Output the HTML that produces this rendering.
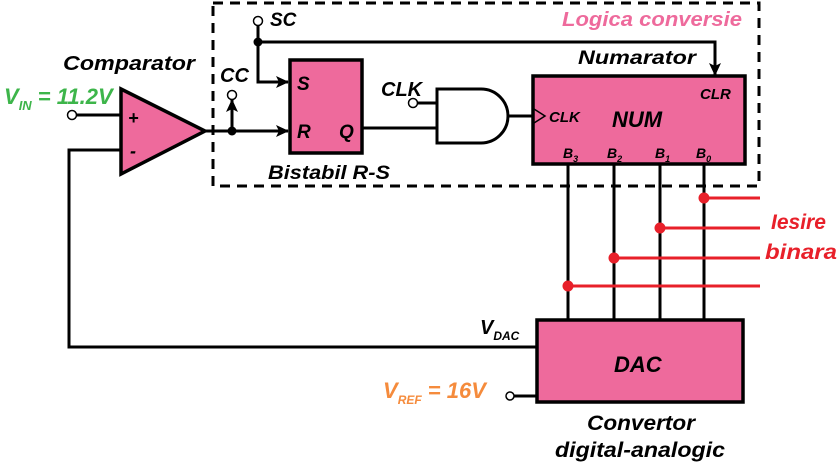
<!DOCTYPE html>
<html><head><meta charset="utf-8"><style>
html,body{margin:0;padding:0;background:#fff;}
svg{display:block;}
text{font-family:"Liberation Sans",sans-serif;font-style:italic;font-weight:bold;}
</style></head><body>
<svg width="837" height="466" viewBox="0 0 837 466" xmlns="http://www.w3.org/2000/svg">
<defs>
<marker id="ar" markerWidth="13" markerHeight="12" refX="12" refY="6" orient="auto" markerUnits="userSpaceOnUse">
<path d="M0,0 L13,6 L0,12 L3,6 Z" fill="#000"/></marker>
</defs>
<!-- dashed box -->
<path d="M213,3 H759 V186 H213 Z" fill="none" stroke="#000" stroke-width="3" stroke-dasharray="10,7"/>
<text x="562" y="26" font-size="20" fill="#EE6A9C" textLength="180" lengthAdjust="spacingAndGlyphs">Logica conversie</text>

<!-- comparator -->
<polygon points="121,89 121,174 205,131" fill="#EE6A9C" stroke="#000" stroke-width="3.5"/>
<text x="128" y="124" font-size="18">+</text>
<text x="130" y="157" font-size="18">-</text>
<text x="63" y="70" font-size="20" textLength="132" lengthAdjust="spacingAndGlyphs">Comparator</text>
<text x="4" y="104" font-size="22" fill="#3DB54A">V<tspan font-size="13" dy="6">IN</tspan><tspan dy="-6"> = 11.2V</tspan></text>
<line x1="76" y1="115" x2="121" y2="115" stroke="#000" stroke-width="3"/>
<circle cx="72" cy="115" r="4.5" fill="#fff" stroke="#000" stroke-width="1.5"/>
<polyline points="121,150 69,150 69,347 537,347" fill="none" stroke="#000" stroke-width="3"/>

<!-- comparator out -->
<line x1="205" y1="131" x2="288" y2="131" stroke="#000" stroke-width="3" marker-end="url(#ar)"/>
<circle cx="232" cy="131" r="4.5" fill="#000"/>
<line x1="232" y1="131" x2="232" y2="100" stroke="#000" stroke-width="3" marker-end="url(#ar)"/>
<circle cx="232" cy="95" r="4.5" fill="#fff" stroke="#000" stroke-width="1.5"/>
<text x="220" y="82" font-size="20">CC</text>

<!-- SC -->
<circle cx="258" cy="21" r="4.5" fill="#fff" stroke="#000" stroke-width="1.5"/>
<text x="270" y="26" font-size="19">SC</text>
<polyline points="258,26 258,82 288,82" fill="none" stroke="#000" stroke-width="3" marker-end="url(#ar)"/>
<circle cx="258" cy="42" r="4.5" fill="#000"/>
<polyline points="258,42 715,42 715,75" fill="none" stroke="#000" stroke-width="3" marker-end="url(#ar)"/>

<!-- RS -->
<rect x="290" y="60" width="72" height="93" fill="#EE6A9C" stroke="#000" stroke-width="3.5"/>
<text x="297" y="90" font-size="19">S</text>
<text x="297" y="138" font-size="19">R</text>
<text x="339" y="138" font-size="19">Q</text>
<text x="268" y="179" font-size="19" textLength="122" lengthAdjust="spacingAndGlyphs">Bistabil R-S</text>
<line x1="362" y1="128" x2="437" y2="128" stroke="#000" stroke-width="3"/>

<!-- AND -->
<circle cx="413" cy="103" r="4.5" fill="#fff" stroke="#000" stroke-width="1.5"/>
<line x1="418" y1="103" x2="437" y2="103" stroke="#000" stroke-width="3"/>
<text x="381" y="96" font-size="20">CLK</text>
<path d="M437,89 H481 A27,27 0 0 1 481,143 H437 Z" fill="#fff" stroke="#000" stroke-width="3"/>
<line x1="508" y1="116" x2="533" y2="116" stroke="#000" stroke-width="3"/>

<!-- NUM -->
<text x="578" y="64" font-size="19" textLength="118" lengthAdjust="spacingAndGlyphs">Numarator</text>
<rect x="533" y="76" width="212" height="88" fill="#EE6A9C" stroke="#000" stroke-width="3.5"/>
<polyline points="534,109 545,116 534,123" fill="none" stroke="#000" stroke-width="1.5"/>
<text x="549" y="122" font-size="15">CLK</text>
<text x="612" y="127" font-size="22">NUM</text>
<text x="700" y="99" font-size="15">CLR</text>
<text x="563" y="158" font-size="14">B<tspan font-size="9" dy="4">3</tspan></text>
<text x="607" y="158" font-size="14">B<tspan font-size="9" dy="4">2</tspan></text>
<text x="655" y="158" font-size="14">B<tspan font-size="9" dy="4">1</tspan></text>
<text x="696" y="158" font-size="14">B<tspan font-size="9" dy="4">0</tspan></text>

<!-- buses -->
<g stroke="#000" stroke-width="3">
<line x1="568" y1="164" x2="568" y2="320"/>
<line x1="614" y1="164" x2="614" y2="320"/>
<line x1="660" y1="164" x2="660" y2="320"/>
<line x1="704" y1="164" x2="704" y2="320"/>
</g>
<g stroke="#E8202A" stroke-width="3">
<line x1="704" y1="198" x2="760" y2="198"/>
<line x1="660" y1="228" x2="760" y2="228"/>
<line x1="614" y1="258" x2="760" y2="258"/>
<line x1="568" y1="286" x2="760" y2="286"/>
</g>
<g fill="#E8202A">
<circle cx="704" cy="198" r="5.5"/><circle cx="660" cy="228" r="5.5"/>
<circle cx="614" cy="258" r="5.5"/><circle cx="568" cy="286" r="5.5"/>
</g>
<text x="771" y="229" font-size="21" fill="#E8202A">Iesire</text>
<text x="765" y="259" font-size="21" fill="#E8202A" textLength="72" lengthAdjust="spacingAndGlyphs">binara</text>

<!-- DAC -->
<rect x="537" y="320" width="206" height="82" fill="#EE6A9C" stroke="#000" stroke-width="3.5"/>
<text x="614" y="372" font-size="22">DAC</text>
<text x="480" y="334" font-size="20">V<tspan font-size="12" dy="6">DAC</tspan></text>
<circle cx="510" cy="396" r="4" fill="#fff" stroke="#000" stroke-width="1.5"/>
<line x1="514" y1="396" x2="537" y2="396" stroke="#000" stroke-width="3"/>
<text x="383" y="398" font-size="22" fill="#F58B3C">V<tspan font-size="12" dy="6">REF</tspan><tspan dy="-6"> = 16V</tspan></text>
<text x="587" y="430" font-size="21" textLength="108" lengthAdjust="spacingAndGlyphs">Convertor</text>
<text x="555" y="457" font-size="21" textLength="170" lengthAdjust="spacingAndGlyphs">digital-analogic</text>
</svg>
</body></html>
